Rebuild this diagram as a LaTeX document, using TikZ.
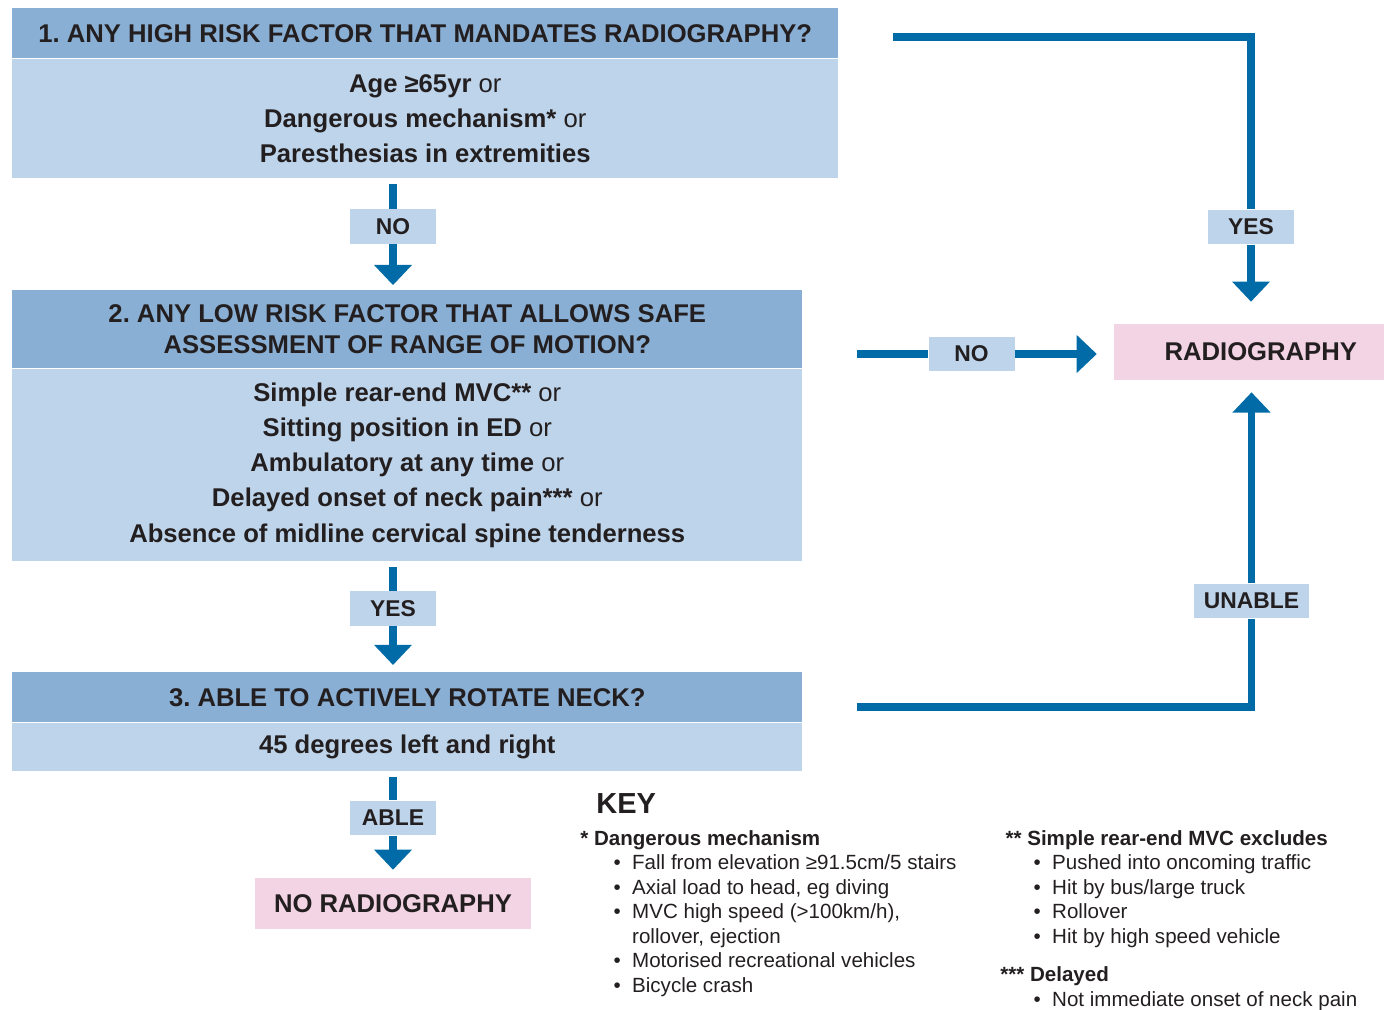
\documentclass[tikz,border=0pt]{standalone}
\usepackage{fontspec}
\setmainfont{Liberation Sans}
\frenchspacing
\usetikzlibrary{arrows.meta}
\definecolor{headblue}{HTML}{8AAFD4}
\definecolor{bodyblue}{HTML}{BED4EA}
\definecolor{flowblue}{HTML}{006BA7}
\definecolor{pinkbox}{HTML}{F2D4E4}
\definecolor{inkgrey}{HTML}{231F20}
\newcommand{\keyfont}{\fontsize{11.7}{13.95}\selectfont}
\newcommand{\kbullet}{\hspace*{19pt}\textbullet}
\tikzset{
  head/.style={fill=headblue, text=inkgrey, anchor=north west, inner sep=0pt, align=center,
    font=\bfseries\fontsize{14.6}{17.6}\selectfont},
  body/.style={fill=bodyblue, text=inkgrey, anchor=north, inner sep=0pt, align=center,
    font=\fontsize{14.6}{20.1}\selectfont},
  answer/.style={fill=bodyblue, text=inkgrey, inner sep=0pt, minimum width=1.72cm,
    minimum height=0.69cm, font=\bfseries\fontsize{13}{15}\selectfont},
  result/.style={fill=pinkbox, text=inkgrey, inner sep=0pt,
    font=\bfseries\fontsize{14.6}{17}\selectfont},
  flow/.style={draw=flowblue, line width=4.2pt},
  flowarrow/.style={flow, -{Triangle[width=21pt,length=11.5pt]}},
  keytext/.style={anchor=base west, inner sep=0pt, text=inkgrey, font=\keyfont}
}

\begin{document}
\begin{tikzpicture}[x=0.02cm, y=-0.02cm]
\useasboundingbox (0,0) rectangle (1389,1009);
% question boxes
\node[head, minimum width=16.52cm, minimum height=1cm] (h1) at (12,8)
  {1. ANY HIGH RISK FACTOR THAT MANDATES RADIOGRAPHY?};
\node[body, minimum width=16.52cm, minimum height=2.38cm] (b1) at (h1.south)
  {\textbf{Age ≥65yr} or\\ \textbf{Dangerous mechanism*} or\\ \textbf{Paresthesias in extremities}};
\node[head, minimum width=15.8cm, minimum height=1.56cm] (h2) at (12,290)
  {2. ANY LOW RISK FACTOR THAT ALLOWS SAFE\\ ASSESSMENT OF RANGE OF MOTION?};
\node[body, minimum width=15.8cm, minimum height=3.84cm] (b2) at (h2.south)
  {\textbf{Simple rear-end MVC**} or\\ \textbf{Sitting position in ED} or\\
   \textbf{Ambulatory at any time} or\\ \textbf{Delayed onset of neck pain***} or\\
   \textbf{Absence of midline cervical spine tenderness}};
\node[head, minimum width=15.8cm, minimum height=1cm] (h3) at (12,672)
  {3. ABLE TO ACTIVELY ROTATE NECK?};
\node[body, minimum width=15.8cm, minimum height=0.96cm] (b3) at (h3.south)
  {\textbf{45 degrees left and right}};
% outcomes
\node[result, minimum height=1.12cm, inner xsep=0.54cm, text width=4.32cm, align=right]
  (rad) at (1249,352) {RADIOGRAPHY};
\node[result, minimum width=5.52cm, minimum height=1.02cm] (norad) at (393,903.5) {NO RADIOGRAPHY};
% answer labels
\node[answer] (no1) at (393,226.5) {NO};
\node[answer] (yes2) at (393,608.5) {YES};
\node[answer] (able) at (393,818) {ABLE};
\node[answer] (no2) at (971.5,354) {NO};
\node[answer] (yes1) at (1251,227) {YES};
\node[answer, minimum width=2.3cm] (unable) at (1251.5,601) {UNABLE};
\coordinate (t1) at (893,37);
\coordinate (t2) at (857,354);
\coordinate (t3) at (857,707);
% connectors
\draw[flow, shorten <=3.4pt] (b1.south -| no1) -- (no1.north);
\draw[flowarrow, shorten >=2.8pt] (no1.south) -- (h2.north -| no1);
\draw[flow, shorten <=3.4pt] (b2.south -| yes2) -- (yes2.north);
\draw[flowarrow, shorten >=4pt] (yes2.south) -- (h3.north -| yes2);
\draw[flow, shorten <=3.4pt] (b3.south -| able) -- (able.north);
\draw[flowarrow, shorten >=4.5pt] (able.south) -- (norad.north);
\draw[flow] (t1) -| (yes1.north);
\draw[flowarrow, shorten >=12.5pt] (yes1.south) -- (rad.north -| yes1);
\draw[flow] (t2) -- (no2.west);
\draw[flowarrow, shorten >=9.6pt] (no2.east) -- (no2.east -| rad.west);
\draw[flow] (t3) -| (unable.south);
\draw[flowarrow, shorten >=6.8pt] (unable.north) -- (rad.south -| unable);
% key
\node[anchor=base west, inner sep=0pt, text=inkgrey, font=\bfseries\fontsize{16.5}{18}\selectfont]
  (key) at (596,813) {KEY};
\node[keytext] (key1) at (580,845) {\begin{tabular}[t]{@{}p{29.5pt}@{}l@{}}
  \multicolumn{2}{@{}l@{}}{\bfseries * Dangerous mechanism}\\
  \kbullet & Fall from elevation ≥91.5cm/5 stairs\\
  \kbullet & Axial load to head, eg diving\\
  \kbullet & MVC high speed (>100km/h),\\
           & rollover, ejection\\
  \kbullet & Motorised recreational vehicles\\
  \kbullet & Bicycle crash
\end{tabular}};
\node[keytext] (key2) at (1000,845) {\begin{tabular}[t]{@{}p{29.5pt}@{}l@{}}
  \multicolumn{2}{@{}l@{}}{\bfseries \hspace{3pt}** Simple rear-end MVC excludes}\\
  \kbullet & Pushed into oncoming traffic\\
  \kbullet & Hit by bus/large truck\\
  \kbullet & Rollover\\
  \kbullet & Hit by high speed vehicle\\[8pt]
  \multicolumn{2}{@{}l@{}}{\bfseries *** Delayed}\\
  \kbullet & Not immediate onset of neck pain
\end{tabular}};
\end{tikzpicture}
\end{document}
